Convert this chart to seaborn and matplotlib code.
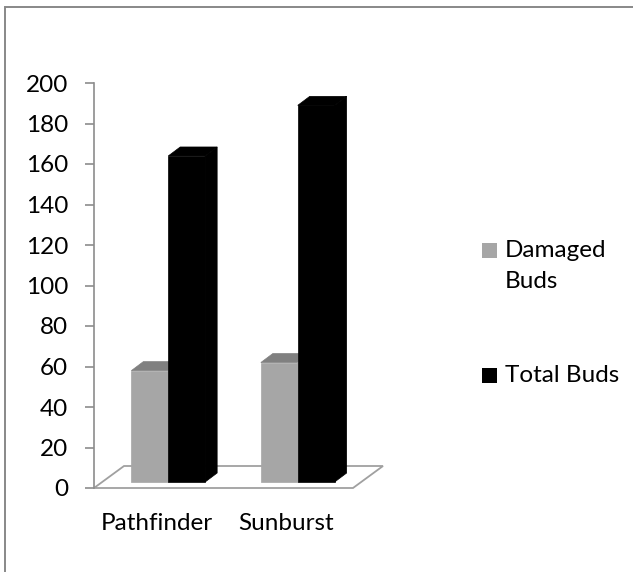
import matplotlib
matplotlib.use("Agg")
import matplotlib.pyplot as plt
import matplotlib.transforms as mtransforms
from matplotlib.patches import Polygon, Rectangle
import seaborn as sns
import pandas as pd

# Bud counts per variety
varieties = ["Pathfinder", "Sunburst"]
damaged_buds = [55, 59]
total_buds = [161, 186]
series_labels = ["Damaged\nBuds", "Total Buds"]
series_colors = ["#a6a6a6", "#000000"]
top_colors = ["#808080", "#000000"]
y_ticks = [0, 20, 40, 60, 80, 100, 120, 140, 160, 180, 200]

df = pd.DataFrame({
    "variety": varieties * 2,
    "series": [series_labels[0]] * len(varieties) + [series_labels[1]] * len(varieties),
    "buds": damaged_buds + total_buds,
})

sns.set_theme(style="white")
plt.rcParams["font.family"] = ["Lato", "DejaVu Sans"]
FS = 17.5

W, H, DPI = 633, 572, 100
fig = plt.figure(figsize=(W / DPI, H / DPI), dpi=DPI)
ax = fig.add_axes([94 / W, (H - 488) / H, 259 / W, 405 / H])
ax.patch.set_visible(False)

sns.barplot(data=df, x="variety", y="buds", hue="series", palette=series_colors,
            width=0.57, saturation=1, ax=ax, legend=False, errorbar=None)
ax.set_xlim(-0.51, 1.49)
ax.set_ylim(0, 200)
ax.set_yticks(y_ticks)
ax.set_xlabel("")
ax.set_ylabel("")

# pixel offsets for the pseudo-3D look
front_dx, front_dy = 8.2, 6.0      # bars sit a little behind the front edge
depth_dx, depth_dy = 12.0, 9.0     # bar depth
floor_dx, floor_dy = 30.0, 22.0    # floor depth

ident = mtransforms.IdentityTransform()
front_shift = mtransforms.ScaledTranslation(front_dx / DPI, front_dy / DPI, fig.dpi_scale_trans)

# floor
x0f, x1f = ax.get_xlim()
(fx0, fy0), (fx1, fy1) = ax.transData.transform([(x0f, 0), (x1f, 0)])
floor = Polygon([(fx0, fy0), (fx1, fy1), (fx1 + floor_dx, fy1 + floor_dy),
                 (fx0 + floor_dx, fy0 + floor_dy)], closed=True,
                facecolor="white", edgecolor="#a0a0a0", linewidth=1.3,
                transform=ident, zorder=0.5)
floor.set_clip_on(False)
ax.add_artist(floor)

bars = [p for p in ax.patches if isinstance(p, Rectangle) and p.get_height() > 0]
bars.sort(key=lambda p: p.get_x())
for p in bars:
    fc = p.get_facecolor()
    is_total = fc[0] < 0.2
    p.set_transform(ax.transData + front_shift)
    p.set_edgecolor(fc)
    p.set_linewidth(0.5)
    p.set_zorder(3 if is_total else 2)
    p.set_clip_on(False)
    bx, bw, bh = p.get_x(), p.get_width(), p.get_height()
    (px0, py0), (px1, py1) = ax.transData.transform([(bx, 0), (bx + bw, bh)])
    px0 += front_dx; px1 += front_dx; py0 += front_dy; py1 += front_dy
    tc = top_colors[1] if is_total else top_colors[0]
    top = Polygon([(px0, py1), (px1, py1), (px1 + depth_dx, py1 + depth_dy),
                   (px0 + depth_dx, py1 + depth_dy)], closed=True,
                  facecolor=tc, edgecolor=tc, linewidth=0.5,
                  transform=ident, zorder=p.get_zorder() - 0.1)
    side = Polygon([(px1, py0), (px1 + depth_dx, py0 + depth_dy),
                    (px1 + depth_dx, py1 + depth_dy), (px1, py1)], closed=True,
                   facecolor=fc, edgecolor=fc, linewidth=0.5,
                   transform=ident, zorder=p.get_zorder() - 0.1)
    for poly in (top, side):
        poly.set_clip_on(False)
        ax.add_artist(poly)

# axes styling
for s in ["top", "right", "bottom"]:
    ax.spines[s].set_visible(False)
ax.spines["left"].set_color("#8c8c8c")
ax.spines["left"].set_linewidth(1.2)
ax.tick_params(axis="y", direction="out", length=6.5, width=1.2, color="#8c8c8c",
               pad=12, labelsize=FS, labelcolor="black", left=True)
ax.tick_params(axis="x", length=0, pad=18, labelsize=FS, labelcolor="black")
for lbl in ax.get_xticklabels():
    lbl.set_transform(lbl.get_transform() + mtransforms.ScaledTranslation(-3 / DPI, 0, fig.dpi_scale_trans))

# legend: swatches with labels to their right (wrapped lines stacked below)
legend_rows = [(series_colors[0], series_labels[0], 243), (series_colors[1], series_labels[1], 368)]
line_step = 31.5
for color, label, top_px in legend_rows:
    fig.add_artist(Rectangle((482 / W, 1 - (top_px + 15) / H), 15 / W, 15 / H,
                             transform=fig.transFigure, facecolor=color, edgecolor="none"))
    for i, line in enumerate(label.split("\n")):
        fig.text(505 / W, 1 - (top_px + 14 + i * line_step) / H, line, fontsize=FS,
                 color="black", ha="left", va="baseline")

# chart border (top and left edges visible)
fig.add_artist(Rectangle((5 / W, -0.1), 1.2, 1 - 7 / H + 0.1, transform=fig.transFigure,
                         facecolor="none", edgecolor="#888888", linewidth=1.4, clip_on=False))

fig.savefig("out.png", dpi=DPI)
